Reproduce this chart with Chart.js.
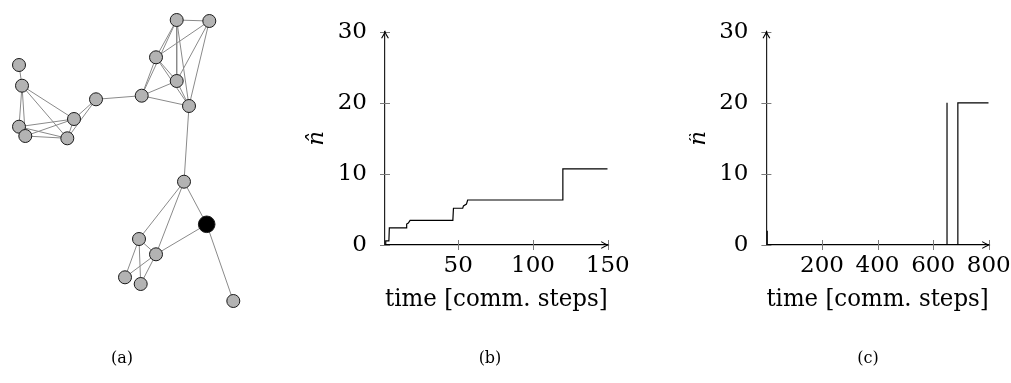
<!DOCTYPE html>
<html><head><meta charset="utf-8">
<script src="https://cdn.jsdelivr.net/npm/chart.js@4.4.1/dist/chart.umd.min.js"></script>
<style>
html,body{margin:0;padding:0;background:#fff;width:1011px;height:383px;overflow:hidden;position:relative;}
canvas{position:absolute;top:0;}
.cap{position:absolute;top:347px;width:80px;margin-left:-40px;text-align:center;font-family:'DejaVu Serif',serif;font-size:16px;line-height:22px;color:#000;}
</style></head><body>
<canvas id="ga" width="246" height="383" style="left:0px"></canvas>
<canvas id="gb" width="344" height="383" style="left:296px"></canvas>
<canvas id="gc" width="340" height="383" style="left:689px"></canvas>
<div class="cap" id="capa" style="left:122px"></div>
<div class="cap" id="capb" style="left:490px"></div>
<div class="cap" id="capc" style="left:868px"></div>
<script>
// ---------------- data ----------------
// (a) network layout (layout units), node 15 (index 14) is the black one
const nodeX = [176.7, 209.3, 156, 176.7, 141.7, 189, 96, 19, 22, 74, 19, 25.3, 67.3, 184, 206.7, 139, 156, 125, 140.7, 233.3];
const nodeY = [20, 21, 57.3, 81, 95.7, 106, 99.3, 65, 85.7, 119, 126.7, 136, 138.3, 181.7, 224.3, 239, 254.3, 277.3, 284, 301];
const leaderNode = 14;
const edges = [
  [1,2],[1,3],[1,4],[1,5],[1,6],[2,3],[2,4],[2,6],[3,4],[3,5],[3,6],[4,5],[4,6],[5,6],[5,7],[6,14],
  [7,10],[7,13],[8,9],[9,10],[9,11],[9,12],[9,13],[10,11],[10,12],[10,13],[11,12],[11,13],[12,13],
  [14,15],[14,16],[14,17],[15,17],[15,20],[16,17],[16,18],[16,19],[17,18],[17,19]
];
// (b) estimate n-hat over time
const bTime = [1, 1.4, 1.6, 3.6, 3.9, 15.2, 15.5, 16.6, 17.8, 46.4, 46.8, 53.0, 53.5, 55.5, 56.3, 119.6, 120.0, 150];
const bNhat = [0, 0, 0.58, 0.58, 2.4, 2.4, 2.95, 3.1, 3.47, 3.47, 5.17, 5.17, 5.5, 5.75, 6.33, 6.33, 10.7, 10.7];
// (c)
const cTime = [3, 3, 650, 650, 650, 689, 689, 800];
const cNhat = [2, 0, 0, 20, 0, 0, 20, 20];
// ticks and labels
const bXTicks = [50, 100, 150];
const cXTicks = [200, 400, 600, 800];
const yTicks = [0, 10, 20, 30];
const captions = ['(a)', '(b)', '(c)'];
const xTitle = 'time [comm. steps]';
const yTitle = 'n\u0302';

// ---------------- setup ----------------
Chart.defaults.font.family = "'DejaVu Serif', serif";
Chart.defaults.color = '#000';
document.getElementById('capa').textContent = captions[0];
document.getElementById('capb').textContent = captions[1];
document.getElementById('capc').textContent = captions[2];

function arrow(ctx, x, y, dir) {
  const L = 6.5, W = 3.4;
  ctx.beginPath();
  if (dir === 'right') {
    ctx.moveTo(x - L, y - W); ctx.quadraticCurveTo(x - 2, y - 0.6, x, y);
    ctx.quadraticCurveTo(x - 2, y + 0.6, x - L, y + W);
  } else {
    ctx.moveTo(x - W, y + L); ctx.quadraticCurveTo(x - 0.6, y + 2, x, y);
    ctx.quadraticCurveTo(x + 0.6, y + 2, x + W, y + L);
  }
  ctx.stroke();
}

const axisDeco = {
  id: 'axisDeco',
  afterDatasetsDraw(chart, args, opts) {
    if (!opts || !opts.enabled) return;
    const {ctx, chartArea} = chart;
    const {left, right, top, bottom} = chartArea;
    const xs = chart.scales.x, ys = chart.scales.y;
    ctx.save();
    ctx.strokeStyle = '#7a7a7a';
    ctx.lineWidth = 1;
    xs.ticks.forEach(t => {
      const p = Math.round(xs.getPixelForValue(t.value)) + 0.5;
      ctx.beginPath(); ctx.moveTo(p, bottom - 5); ctx.lineTo(p, bottom + 5); ctx.stroke();
    });
    ys.ticks.forEach(t => {
      const p = Math.round(ys.getPixelForValue(t.value)) + 0.5;
      ctx.beginPath(); ctx.moveTo(left - 5, p); ctx.lineTo(left + 5, p); ctx.stroke();
    });
    ctx.strokeStyle = '#000';
    ctx.lineWidth = 1.1;
    arrow(ctx, right, bottom, 'right');
    arrow(ctx, left, top, 'up');
    ctx.restore();
  }
};

function setTicks(arr) { return s => { s.ticks = arr.map(v => ({value: v})); }; }

function stepChart(id, times, vals, xmin, xmax, xticks, yWidth, padRight, yTitleFont, yTitlePadTop) {
  return new Chart(document.getElementById(id), {
    type: 'scatter',
    data: { datasets: [{
      data: times.map((t, i) => ({x: t, y: vals[i]})),
      showLine: true, borderColor: '#000', borderWidth: 1.2, pointRadius: 0, tension: 0, fill: false
    }]},
    options: {
      responsive: false, animation: false, events: [],
      layout: { autoPadding: false, padding: { top: 22.7, right: padRight, bottom: 0, left: 0 } },
      plugins: {
        legend: { display: false }, tooltip: { enabled: false }, title: { display: false },
        axisDeco: { enabled: true }
      },
      scales: {
        x: {
          type: 'linear', min: xmin, max: xmax,
          afterBuildTicks: setTicks(xticks),
          afterFit: s => { s.height = 138; },
          grid: { display: false, drawTicks: false },
          border: { display: true, color: '#000', width: 1.2 },
          ticks: { padding: 7, color: '#000', font: { size: 23 }, maxRotation: 0, autoSkip: false },
          title: { display: true, text: xTitle, color: '#000', font: { size: 24 }, padding: { top: 0, bottom: 69 } }
        },
        y: {
          type: 'linear', min: 0, max: 30,
          afterBuildTicks: setTicks(yTicks),
          afterFit: s => { s.width = yWidth; },
          grid: { display: false, drawTicks: false },
          border: { display: true, color: '#222', width: 1.2 },
          ticks: { padding: 18, color: '#000', font: { size: 23 }, autoSkip: false },
          title: { display: true, text: yTitle, color: '#000', font: yTitleFont, padding: { top: yTitlePadTop, bottom: 0 } }
        }
      }
    },
    plugins: [axisDeco]
  });
}

// ---------------- (a) network ----------------
const edgeSets = edges.map(([a, b]) => ({
  data: [{x: nodeX[a - 1], y: nodeY[a - 1]}, {x: nodeX[b - 1], y: nodeY[b - 1]}],
  showLine: true, borderColor: '#8a8a8a', borderWidth: 1, pointRadius: 0, order: 1, clip: false
}));
new Chart(document.getElementById('ga'), {
  type: 'scatter',
  data: { datasets: [{
      data: nodeX.map((x, i) => ({x: x, y: nodeY[i]})),
      order: 0, clip: false,
      pointRadius: c => c.dataIndex === leaderNode ? 8.3 : 6.5,
      backgroundColor: c => c.dataIndex === leaderNode ? '#000' : '#b3b3b3',
      borderColor: '#1a1a1a', borderWidth: 1
    }].concat(edgeSets) },
  options: {
    responsive: false, animation: false, events: [],
    layout: { autoPadding: false, padding: { top: 0, left: 0, right: 0, bottom: 63 } },
    plugins: { legend: { display: false }, tooltip: { enabled: false }, title: { display: false } },
    scales: {
      x: { display: false, min: 0, max: 246 },
      y: { display: false, min: 0, max: 320, reverse: true }
    }
  }
});

// ---------------- (b) and (c) ----------------
stepChart('gb', bTime, bNhat, 1, 150, bXTicks, 89, 32.3,
          { size: 23, style: 'italic' }, 7.2);
stepChart('gc', cTime, cNhat, 0, 800, cXTicks, 77.4, 40.3,
          { size: 23, style: 'italic', lineHeight: 0.8 }, 0.8);
</script>
</body></html>
